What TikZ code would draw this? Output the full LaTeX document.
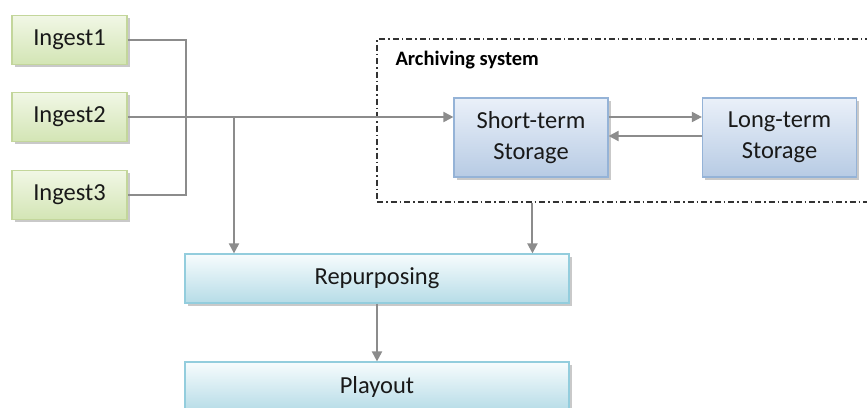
\documentclass[tikz,border=0pt]{standalone}
\usepackage{fontspec}
\setmainfont{Carlito}
\usepackage{xcolor}
\usepackage{tikz}
\usetikzlibrary{arrows.meta, positioning, calc, shadows}

\definecolor{linegray}{HTML}{8C8C8C}
\definecolor{greentop}{HTML}{F1F7E6}
\definecolor{greenbot}{HTML}{D3E5B4}
\definecolor{greenline}{HTML}{C3D69B}
\definecolor{bluetop}{HTML}{EAF0F9}
\definecolor{bluebot}{HTML}{B7CBE4}
\definecolor{blueline}{HTML}{95B3D7}
\definecolor{cyantop}{HTML}{F7FCFD}
\definecolor{cyanbot}{HTML}{B6DCE7}
\definecolor{cyanline}{HTML}{93CDDD}

\begin{document}
\begin{tikzpicture}[
    x=1pt, y=-1pt,
    every node/.style={font=\fontsize{24.5}{31}\selectfont, text=black!90},
    boxbase/.style={draw, line width=1.2pt, align=center, inner sep=0pt,
        drop shadow={shadow xshift=2.5pt, shadow yshift=-2.5pt, fill=black!35, opacity=0.6}},
    ingest/.style={boxbase, draw=greenline, top color=greentop, bottom color=greenbot,
        minimum width=115pt, minimum height=49pt},
    storage/.style={boxbase, draw=blueline, top color=bluetop, bottom color=bluebot,
        minimum width=154pt, minimum height=79pt},
    stage/.style={boxbase, draw=cyanline, top color=cyantop, bottom color=cyanbot,
        minimum width=384pt, minimum height=49pt},
    archive/.style={draw=black!80, line width=1.1pt, dash pattern=on 6pt off 3pt on 1.5pt off 3pt,
        minimum width=503pt, minimum height=163pt, inner sep=0pt},
    line/.style={draw=linegray, line width=2pt},
    arrow/.style={line, -{Triangle[length=10pt, width=10pt]}, color=linegray}
]
    \useasboundingbox[fill=white] (0,0) rectangle (867,407);

    % Archiving system frame
    \node[archive] (archive) at (628.5,120.5) {};
    \node[anchor=north west, font=\fontsize{20.5}{24}\selectfont\bfseries, text=black]
        (archlabel) at (392,48) {Archiving system};

    % Ingest nodes
    \node[ingest] (ingest1) at (69.5,40) {Ingest1};
    \node[ingest] (ingest2) at (69.5,117) {Ingest2};
    \node[ingest] (ingest3) at (69.5,195) {Ingest3};

    % Storage nodes
    \node[storage] (short) at (531,137.5) {Short-term\\Storage};
    \node[storage] (long) at (779.5,137.5) {Long-term\\Storage};

    % Stages
    \node[stage] (rep) at (377,278.5) {Repurposing};
    \node[stage] (play) at (377,386.5) {Playout};

    % Connectors
    \draw[line] (ingest1.east) -- ++(58,0) |- (ingest3.east);
    \draw[arrow] (ingest2.east) -- (ingest2.east -| short.west);
    \coordinate (tap) at (234,117);
    \draw[arrow] (tap) -- (tap |- rep.north);
    \draw[arrow] ([yshift=20.5pt]short.east) -- ([yshift=20.5pt]long.west);
    \draw[arrow] ([yshift=1.5pt]long.west) -- ([yshift=1.5pt]short.east);
    \coordinate (archout) at ($(archive.south west)+(156,0)$);
    \draw[arrow] (archout) -- (archout |- rep.north);
    \draw[arrow] (rep.south) -- (play.north);
\end{tikzpicture}
\end{document}
